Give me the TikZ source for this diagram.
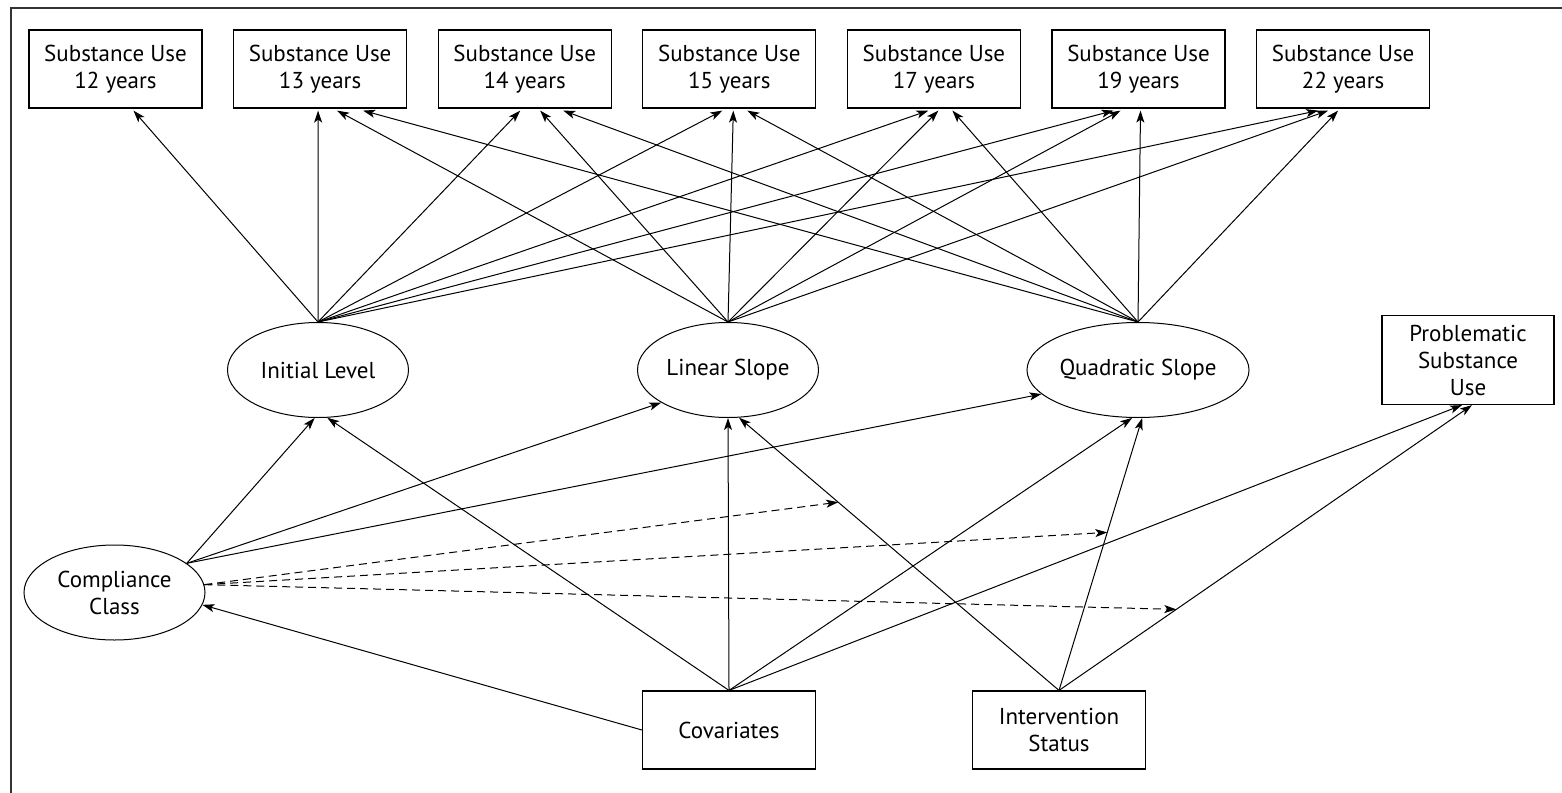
\documentclass[tikz,border=0pt]{standalone}
\usepackage{fontspec}
\setmainfont{PT Sans}
\usetikzlibrary{arrows.meta,positioning,calc,shapes.geometric}

\begin{document}
\begin{tikzpicture}[x=0.5pt, y=-0.5pt, node distance=15.2pt, every node/.style={font=\fontsize{11.5}{13.5}\selectfont},
  box/.style={draw, line width=0.6pt, align=center, minimum width=86.5pt, minimum height=39pt, inner sep=0pt},
  lat/.style={draw, ellipse, line width=0.5pt, align=center, minimum width=90.5pt, minimum height=47.5pt, inner sep=0pt},
  arr/.style={-{Stealth[length=6pt, width=4pt, inset=1.5pt]}, line width=0.5pt},
  mod/.style={arr, dash pattern=on 4pt off 2.5pt}]
\useasboundingbox (0,0) rectangle (1562,792);
\draw[line width=0.8pt, black!80] (11,8) rectangle (1600,830);
\node[box] (b12) at (115.5,69) {Substance Use\\12 years};
\node[box, right=of b12] (b13) {Substance Use\\13 years};
\node[box, right=of b13] (b14) {Substance Use\\14 years};
\node[box, right=of b14] (b15) {Substance Use\\15 years};
\node[box, right=of b15] (b17) {Substance Use\\17 years};
\node[box, right=of b17] (b19) {Substance Use\\19 years};
\node[box, right=of b19] (b22) {Substance Use\\22 years};
\node[lat] (ini) at (318,370) {Initial Level};
\node[lat] (lin) at (728,370) {Linear Slope};
\node[lat] (qua) at (1138,370) {Quadratic Slope};
\node[box, minimum width=86pt, minimum height=44.5pt] (prob) at (1468,360) {Problematic\\Substance\\Use};
\node[lat] (cmp) at (114.5,592.5) {Compliance\\Class};
\node[box] (cov) at (729,730) {Covariates};
\node[box] (intv) at (1059,730) {Intervention\\Status};
\draw[arr] (ini.north) -- ($(b12.south)+(18,2)$); \draw[arr] (ini.north) -- ($(b13.south)+(-2,2)$);
\draw[arr] (ini.north) -- ($(b14.south)+(-4.5,2)$); \draw[arr] (ini.north) -- ($(b15.south)+(-7,2)$);
\draw[arr] (ini.north) -- ($(b17.south)+(-5.5,2)$); \draw[arr] (ini.north) -- ($(b19.south)+(-25,2)$);
\draw[arr] (ini.north) -- ($(b22.south)+(-25,2)$);
\draw[arr] (lin.north) -- ($(b13.south)+(17,2)$); \draw[arr] (lin.north) -- ($(b14.south)+(15.5,2)$);
\draw[arr] (lin.north) -- ($(b15.south)+(4,2)$); \draw[arr] (lin.north) -- ($(b17.south)+(4.5,2)$);
\draw[arr] (lin.north) -- ($(b19.south)+(-18,2)$); \draw[arr] (lin.north) -- ($(b22.south)+(-15,2)$);
\draw[arr] (qua.north) -- ($(b13.south)+(43,2)$); \draw[arr] (qua.north) -- ($(b14.south)+(38.5,2)$);
\draw[arr] (qua.north) -- ($(b15.south)+(18,2)$); \draw[arr] (qua.north) -- ($(b17.south)+(18.5,2)$);
\draw[arr] (qua.north) -- ($(b19.south)+(2,2)$); \draw[arr] (qua.north) -- ($(b22.south)+(-5,2)$);
\draw[arr] (cmp.22) -- (ini.266); \draw[arr] (cmp.22) -- (lin.206); \draw[arr] (cmp.22) -- (qua.194);
\draw[arr] (cov.west) -- (cmp.352);
\draw[arr] (cov.north) -- (ini.281); \draw[arr] (cov.north) -- (lin.south);
\draw[arr] (cov.north) -- (qua.263); \draw[arr] (cov.north) -- ($(prob.south)+(-6,0)$);
\draw[arr] (intv.north) -- (lin.283) coordinate[pos=0.69] (m1);
\draw[arr] (intv.north) -- (qua.275) coordinate[pos=0.58] (m2);
\draw[arr] (intv.north) -- ($(prob.south)+(4,0)$) coordinate[pos=0.284] (m3);
\draw[mod] (cmp.5) -- (m1); \draw[mod] (cmp.5) -- (m2); \draw[mod] (cmp.5) -- (m3);
\end{tikzpicture}
\end{document}
